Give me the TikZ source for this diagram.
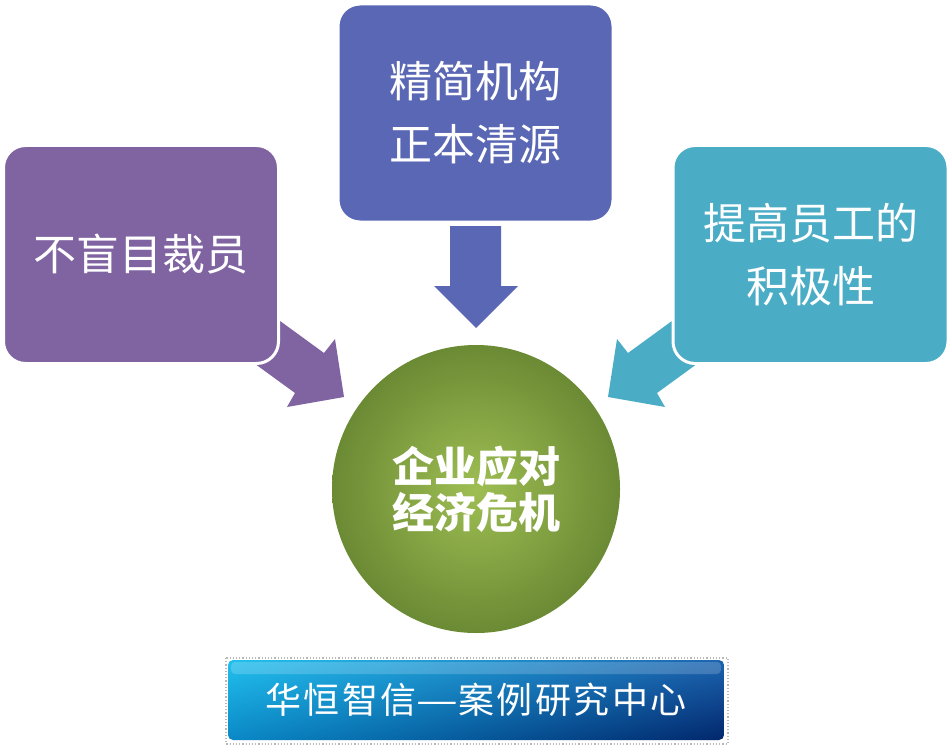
\documentclass[tikz,border=0pt]{standalone}
\usepackage{fontspec}
\usepackage{graphicx}
\newfontfamily\cjk{Noto Sans CJK SC}
\newfontfamily\cjkls[LetterSpace=7]{Noto Sans CJK SC}
\usetikzlibrary{shadings}
\definecolor{cpurple}{HTML}{8064A2}
\definecolor{cblue}{HTML}{5A67B4}
\definecolor{cteal}{HTML}{4BACC6}
\definecolor{ginner}{HTML}{9EBE53}
\definecolor{gouter}{HTML}{6B8A34}
\definecolor{bnUL}{HTML}{22C0EE}
\definecolor{bnLL}{HTML}{0A88C6}
\definecolor{bnUR}{HTML}{1C64B0}
\definecolor{bnLR}{HTML}{02276C}
\begin{document}
\begin{tikzpicture}[x=1pt,y=-1pt,
  box/.style={rounded corners=22pt, draw=white, line width=3pt,
    minimum width=275pt, minimum height=218pt, inner sep=0pt,
    text=white, font=\cjk\fontsize{43}{63}\selectfont, align=center},
  hub/.style={circle, minimum size=288pt, inner sep=0pt, shade,
    inner color=ginner, outer color=gouter, text=white,
    font=\cjk\bfseries\fontsize{42}{46}\selectfont, align=center},
  banner/.style={rounded corners=5pt, minimum width=496pt, minimum height=80pt,
    inner sep=0pt, shade, upper left=bnUL, lower left=bnLL,
    upper right=bnUR, lower right=bnLR, text=white,
    font=\cjkls\fontsize{36}{40}\selectfont}]
\useasboundingbox (0,0) rectangle (952,746);
\fill[white] (0,0) rectangle (952,746);
% block arrows (behind boxes)
\fill[cpurple] (243,294) -- (324,353) -- (335,339) -- (344,397) -- (287,407) -- (295,393) -- (214,334) -- cycle;
\fill[cteal] (709,294) -- (628,353) -- (617,339) -- (608,397) -- (665,407) -- (657,393) -- (738,334) -- cycle;
\fill[cblue] (450,226) -- (501,226) -- (501,286) -- (518,286) -- (476,328) -- (434,286) -- (450,286) -- cycle;
% boxes
\node[box, fill=cpurple] (left) at (141,254.5) {不盲目裁员};
\node[box, fill=cblue] (top) at (475.5,113) {精简机构\\正本清源};
\node[box, fill=cteal] (right) at (810.5,254.5) {提高员工的\\积极性};
% hub
\node[hub] (hub) at (476,489) {企业应对\\经济危机};
% banner
\draw[gray!55, dotted, line width=1.2pt] (226,658) rectangle (728,744);
\node[banner] (bn) at (476,700) {华恒智信\scalebox{1.3}[1]{—}案例研究中心};
\fill[white, opacity=0.18, rounded corners=4pt] (231,662) rectangle (721,674);
\end{tikzpicture}
\end{document}
